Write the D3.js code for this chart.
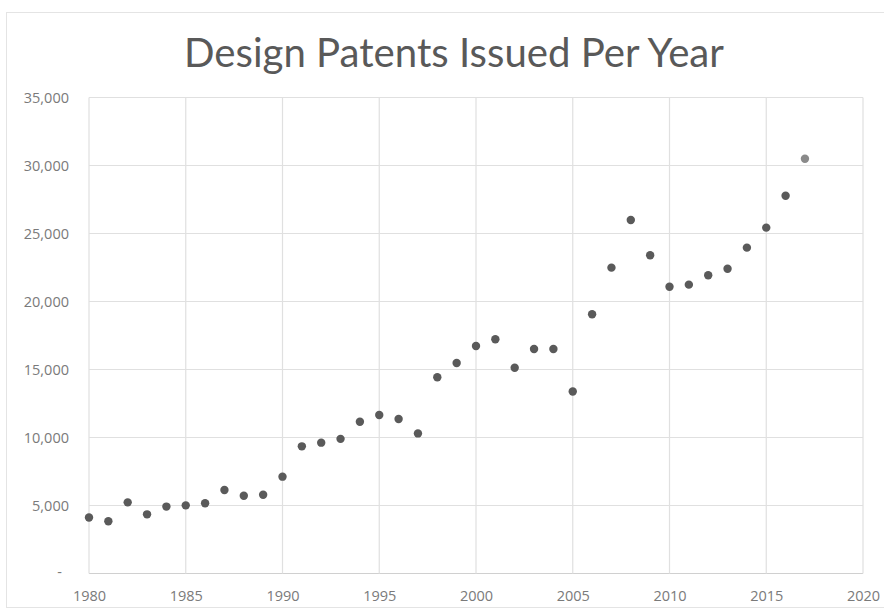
<!DOCTYPE html>
<html><head><meta charset="utf-8">
<script src="https://cdn.jsdelivr.net/npm/d3@7/dist/d3.min.js"></script>
<style>body{margin:0;background:#fff}svg{display:block}</style>
</head><body>
<svg id="c" width="884" height="610"></svg>
<script>
const title = "Design Patents Issued Per Year";
const years = [1980,1981,1982,1983,1984,1985,1986,1987,1988,1989,1990,1991,1992,1993,1994,1995,1996,1997,1998,1999,2000,2001,2002,2003,2004,2005,2006,2007,2008,2009,2010,2011,2012,2013,2014,2015,2016,2017];
const patents = [4120,3840,5230,4350,4920,5010,5160,6140,5720,5790,7120,9350,9620,9900,11160,11650,11360,10300,14430,15480,16730,17220,15130,16510,16510,13380,19060,22490,25990,23400,21090,21240,21930,22410,23960,25430,27780,30500];
const xTicks = [1980,1985,1990,1995,2000,2005,2010,2015,2020];
const yTicks = [0,5000,10000,15000,20000,25000,30000,35000];

const svg = d3.select("#c");
const L=89, R=863, T=97.5, B=573.5;
const x = d3.scaleLinear().domain([1980,2020]).range([L,R]);
const y = d3.scaleLinear().domain([0,35000]).range([B,T]);

// outer chart border
svg.append("rect").attr("x",6.5).attr("y",12.5).attr("width",900).attr("height",595)
  .attr("fill","none").attr("stroke","#e4e4e4").attr("stroke-width",1);

// title
const t = svg.append("text").attr("x",454).attr("y",66.5).attr("text-anchor","middle")
  .attr("font-family","Lato, 'Open Sans', sans-serif").attr("font-size",37).attr("fill","#595959").text(title);
const w = t.node().getComputedTextLength();
if (w>0) t.attr("font-size", 37*540/w);

// gridlines
const g = svg.append("g");
g.selectAll("line.h").data(yTicks).join("line").attr("class","h")
  .attr("x1",L).attr("x2",R).attr("y1",d=>y(d)).attr("y2",d=>y(d))
  .attr("stroke",d=>d===0?"#d0d0d0":"#e0e0e0").attr("stroke-width",1.2);
g.selectAll("line.v").data(xTicks).join("line").attr("class","v")
  .attr("y1",T).attr("y2",B).attr("x1",d=>x(d)).attr("x2",d=>x(d))
  .attr("stroke","#e0e0e0").attr("stroke-width",1.2);

// axes labels via d3 axes
const fmt = d3.format(",");
const lab = "'Open Sans', Lato, sans-serif";
const ya = svg.append("g").attr("transform",`translate(${L-20},0)`)
  .call(d3.axisLeft(y).tickValues(yTicks).tickSize(0).tickPadding(0).tickFormat(d=>d===0?"-":fmt(d)));
ya.select(".domain").remove();
ya.selectAll("text").attr("font-family",lab).attr("font-size",14.5).attr("fill","#7a7a7a");
ya.selectAll(".tick").filter(d=>d===0).select("text").attr("dx",-7).attr("dy","0.2em");

const xa = svg.append("g").attr("transform",`translate(0,${B+17})`)
  .call(d3.axisBottom(x).tickValues(xTicks).tickSize(0).tickPadding(0).tickFormat(d3.format("d")));
xa.select(".domain").remove();
xa.selectAll("text").attr("font-family",lab).attr("font-size",14.5).attr("fill","#7a7a7a");

// points
svg.append("g").selectAll("circle").data(years.map((yr,i)=>({yr,v:patents[i]}))).join("circle")
  .attr("cx",d=>x(d.yr)).attr("cy",d=>y(d.v)).attr("r",4.2)
  .attr("fill",(d,i)=>i===years.length-1?"#8a8a8a":"#5a5a5a");
</script>
</body></html>
